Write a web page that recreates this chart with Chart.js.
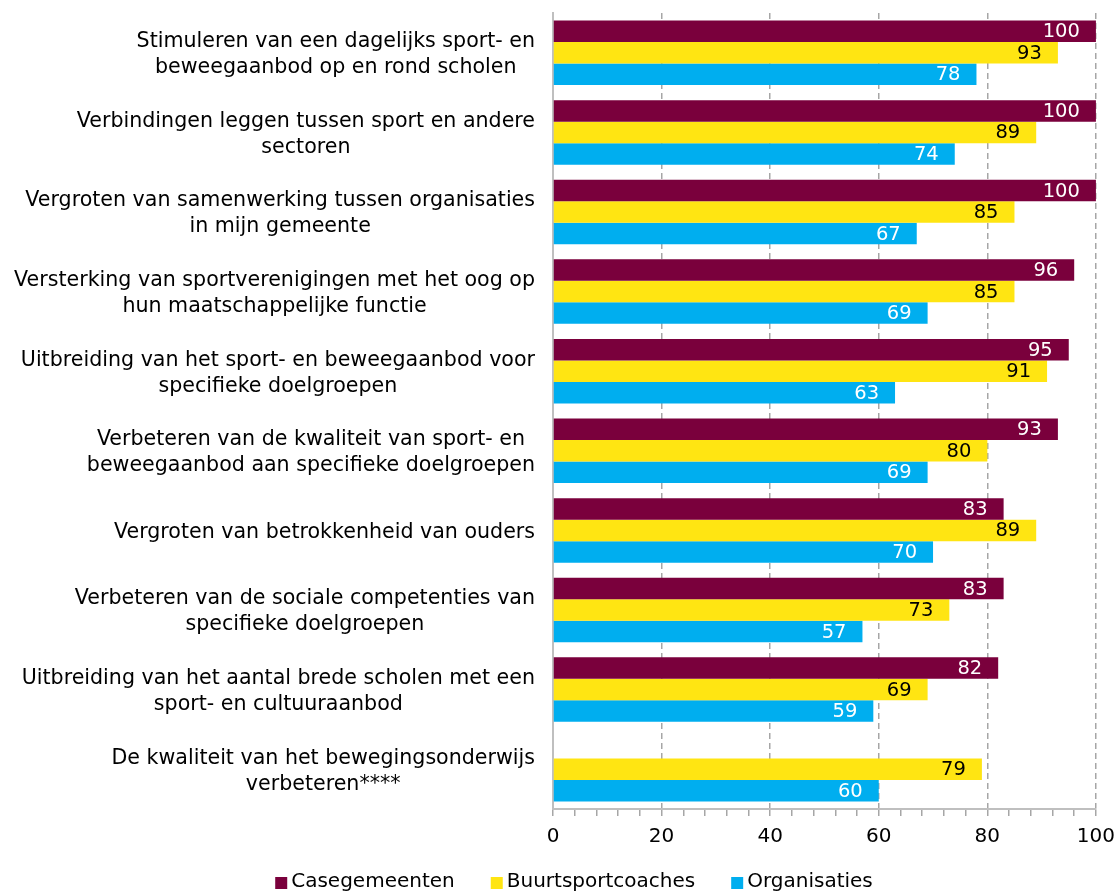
<!DOCTYPE html>
<html>
<head>
<meta charset="utf-8">
<script src="https://cdn.jsdelivr.net/npm/chart.js@4.4.1/dist/chart.umd.min.js"></script>
<style>
  html, body { margin: 0; padding: 0; background: #fff; }
  #wrap { width: 1117px; height: 893px; }
</style>
</head>
<body>
<div id="wrap"><canvas id="myChart" width="1117" height="893"></canvas></div>
<script>
const categories = [
  ['Stimuleren van een dagelijks sport- en', 'beweegaanbod op en rond scholen'],
  ['Verbindingen leggen tussen sport en andere', 'sectoren'],
  ['Vergroten van samenwerking tussen organisaties', 'in mijn gemeente'],
  ['Versterking van sportverenigingen met het oog op', 'hun maatschappelijke functie'],
  ['Uitbreiding van het sport- en beweegaanbod voor', 'specifieke doelgroepen'],
  ['Verbeteren van de kwaliteit van sport- en', 'beweegaanbod aan specifieke doelgroepen'],
  ['Vergroten van betrokkenheid van ouders'],
  ['Verbeteren van de sociale competenties van', 'specifieke doelgroepen'],
  ['Uitbreiding van het aantal brede scholen met een', 'sport- en cultuuraanbod'],
  ['De kwaliteit van het bewegingsonderwijs', 'verbeteren****']
];
const casegemeenten = [100, 100, 100, 96, 95, 93, 83, 83, 82, null];
const buurtsportcoaches = [93, 89, 85, 85, 91, 80, 89, 73, 69, 79];
const organisaties = [78, 74, 67, 69, 63, 69, 70, 57, 59, 60];
const xTicks = [0, 20, 40, 60, 80, 100];

const FONT = '"DejaVu Sans", Verdana, sans-serif';

// category labels: block right-aligned, lines centered within the block
const catLabels = {
  id: 'catLabels',
  afterDraw(chart) {
    const ctx = chart.ctx;
    const y = chart.scales.y;
    const right = 535;
    const lh = 26;
    ctx.save();
    ctx.font = '20.6px ' + FONT;
    ctx.fillStyle = '#000';
    ctx.textAlign = 'center';
    ctx.textBaseline = 'middle';
    categories.forEach((lines, i) => {
      const w = Math.max(...lines.map(l => ctx.measureText(l).width));
      const cx = right - w / 2;
      const cy = y.getPixelForValue(i) + 2;
      lines.forEach((l, j) => {
        ctx.fillText(l, cx, cy + (j - (lines.length - 1) / 2) * lh);
      });
    });
    ctx.restore();
  }
};

// value labels inside the end of each bar
const barLabels = {
  id: 'barLabels',
  afterDatasetsDraw(chart) {
    const ctx = chart.ctx;
    ctx.save();
    ctx.font = '19.5px ' + FONT;
    ctx.textAlign = 'right';
    ctx.textBaseline = 'middle';
    chart.data.datasets.forEach((ds, di) => {
      const meta = chart.getDatasetMeta(di);
      meta.data.forEach((bar, i) => {
        const v = ds.data[i];
        if (v === null || v === undefined) return;
        ctx.fillStyle = di === 1 ? '#000' : '#fff';
        ctx.fillText(String(v), bar.x - 16, bar.y + 1);
      });
    });
    ctx.restore();
  }
};

// legend at the bottom, tight box/text spacing like the original
const bottomLegend = {
  id: 'bottomLegend',
  afterDraw(chart) {
    const ctx = chart.ctx;
    const box = 12, gapBox = 4, gapItem = 36, yMid = 882;
    ctx.save();
    ctx.font = '20px ' + FONT;
    ctx.textBaseline = 'middle';
    ctx.textAlign = 'left';
    const items = chart.data.datasets.map(ds => ({ text: ds.label, color: ds.backgroundColor, w: ctx.measureText(ds.label).width }));
    const total = items.reduce((s, it) => s + box + gapBox + it.w, 0) + gapItem * (items.length - 1);
    let x = 574 - total / 2;
    items.forEach(it => {
      ctx.fillStyle = it.color;
      ctx.fillRect(x, yMid - box / 2 + 1, box, box);
      x += box + gapBox;
      ctx.fillStyle = '#000';
      ctx.fillText(it.text, x, yMid);
      x += it.w + gapItem;
    });
    ctx.restore();
  }
};

new Chart(document.getElementById('myChart').getContext('2d'), {
  type: 'bar',
  data: {
    labels: categories.map(c => c.join(' ')),
    datasets: [
      { label: 'Casegemeenten', data: casegemeenten, backgroundColor: '#7a003c' },
      { label: 'Buurtsportcoaches', data: buurtsportcoaches, backgroundColor: '#ffe512' },
      { label: 'Organisaties', data: organisaties, backgroundColor: '#00aeef' }
    ]
  },
  options: {
    indexAxis: 'y',
    responsive: false,
    animation: false,
    categoryPercentage: 0.81,
    barPercentage: 1.0,
    layout: { padding: { left: 0, right: 17, top: 13, bottom: 35 } },
    scales: {
      x: {
        min: 0,
        max: 100,
        ticks: {
          stepSize: 4,
          autoSkip: false,
          maxRotation: 0,
          color: '#000',
          padding: 2,
          font: { family: FONT, size: 20, lineHeight: 1.9 },
          callback: v => xTicks.includes(v) ? String(v) : ''
        },
        grid: {
          color: ctx => (ctx.tick && ctx.tick.value % 20 === 0 && ctx.tick.value > 0) ? '#a6a6a6' : 'rgba(0,0,0,0)',
          lineWidth: 1.5,
          tickColor: '#a6a6a6',
          tickLength: 7,
          drawTicks: true
        },
        border: { display: true, color: '#bfbfbf', width: 2, dash: [6, 4] }
      },
      y: {
        afterFit: s => { s.width = 553; },
        ticks: { display: false },
        grid: { display: false },
        border: { display: true, color: '#bfbfbf', width: 2 }
      }
    },
    plugins: {
      legend: { display: false },
      tooltip: { enabled: false }
    }
  },
  plugins: [catLabels, barLabels, bottomLegend]
});
</script>
</body>
</html>
